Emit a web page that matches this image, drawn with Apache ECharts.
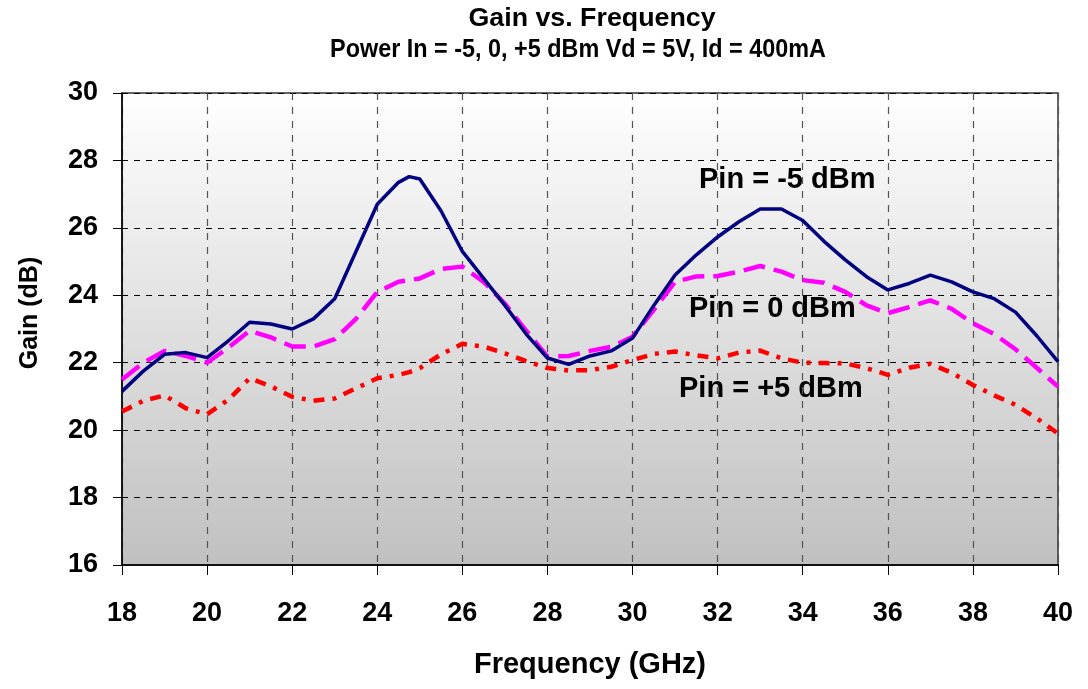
<!DOCTYPE html>
<html>
<head>
<meta charset="utf-8">
<script src="https://cdn.jsdelivr.net/npm/echarts@6/dist/echarts.min.js"></script>
<style>html,body{margin:0;padding:0;background:#fff}#c{width:1088px;height:689px}</style>
</head>
<body>
<div id="c"></div>
<script>
const freq = [18,18.5,19,19.5,20,20.5,21,21.5,22,22.5,23,23.5,24,24.5,24.75,25,25.5,26,26.5,27,27.5,28,28.5,29,29.5,30,30.5,31,31.5,32,32.5,33,33.5,34,34.5,35,35.5,36,36.5,37,37.5,38,38.5,39,39.5,40];
const gainM5 = [21.15,21.75,22.25,22.3,22.15,22.65,23.2,23.15,23.0,23.3,23.9,25.3,26.7,27.35,27.52,27.45,26.5,25.3,24.5,23.7,22.85,22.14,21.95,22.2,22.35,22.73,23.7,24.6,25.2,25.73,26.18,26.56,26.56,26.22,25.6,25.05,24.55,24.16,24.35,24.6,24.4,24.1,23.9,23.5,22.8,22.03];
const gain0 = [21.5,22.0,22.35,22.2,22.0,22.45,22.95,22.75,22.48,22.48,22.7,23.3,24.1,24.4,24.45,24.5,24.78,24.85,24.4,23.75,22.95,22.18,22.2,22.35,22.47,22.77,23.57,24.4,24.56,24.57,24.7,24.87,24.7,24.45,24.37,24.1,23.7,23.47,23.65,23.85,23.6,23.17,22.85,22.4,21.85,21.29];
const gainP5 = [20.55,20.87,21.03,20.65,20.47,20.9,21.54,21.3,20.99,20.87,20.94,21.24,21.54,21.64,21.72,21.84,22.25,22.56,22.48,22.28,22.05,21.84,21.77,21.78,21.88,22.08,22.26,22.33,22.22,22.13,22.3,22.36,22.13,22.0,21.99,21.98,21.84,21.64,21.85,21.97,21.7,21.34,21.03,20.75,20.35,19.9];
const titleText = 'Gain vs. Frequency';
const subtitleText = 'Power In = -5, 0, +5 dBm Vd = 5V, Id = 400mA';
const xName = 'Frequency (GHz)';
const yName = 'Gain (dB)';
const labels = ['Pin = -5 dBm','Pin = 0 dBm','Pin = +5 dBm'];

const pair = (ys) => freq.map((f,i)=>[f, ys[i]]);
const chart = echarts.init(document.getElementById('c'));
const F = '"Liberation Sans", Arial, sans-serif';
chart.setOption({
  animation:false,
  backgroundColor:'#ffffff',
  grid:{
    left:122, right:30, top:93, bottom:124, show:true,
    backgroundColor:new echarts.graphic.LinearGradient(0,0,0,1,[{offset:0,color:'#ffffff'},{offset:1,color:'#c0c0c0'}]),
    borderColor:'#333', borderWidth:1.5
  },
  xAxis:{
    type:'value', min:18, max:40, interval:2,
    name:xName, nameLocation:'middle', nameGap:85,
    nameTextStyle:{fontFamily:F, fontWeight:'bold', fontSize:29, color:'#000'},
    axisLine:{show:true, onZero:false, lineStyle:{color:'#111', width:2}},
    axisTick:{show:true, inside:false, length:10, lineStyle:{color:'#000'}},
    axisLabel:{fontFamily:F, fontWeight:'bold', fontSize:27, color:'#000', margin:35},
    splitLine:{show:true, lineStyle:{color:'#555', type:[7,7], width:1.2}}
  },
  yAxis:{
    type:'value', min:16, max:30, interval:2,
    axisLine:{show:true, onZero:false, lineStyle:{color:'#000', width:1.5}},
    axisTick:{show:true, inside:false, length:9, lineStyle:{color:'#000'}},
    axisLabel:{fontFamily:F, fontWeight:'bold', fontSize:27, color:'#000', margin:24},
    splitLine:{show:true, lineStyle:{color:'#000', type:[6,6], width:1}}
  },
  series:[
    {name:labels[0], type:'line', data:pair(gainM5), showSymbol:false, lineStyle:{color:'#000080', width:3.5}, z:5},
    {name:labels[1], type:'line', data:pair(gain0), showSymbol:false, lineStyle:{color:'#ff00ff', width:4.5, type:[22,9]}, z:4},
    {name:labels[2], type:'line', data:pair(gainP5), showSymbol:false, lineStyle:{color:'#ff0000', width:4.5, type:[11,8,4,8]}, z:3}
  ],
  graphic:[
    {type:'text', x:592, y:19, scaleX:1.03, style:{text:titleText, font:'bold 26px '+F, fill:'#000', textAlign:'center', textVerticalAlign:'middle'}},
    {type:'text', x:578, y:50, scaleX:0.9, style:{text:subtitleText, font:'bold 26px '+F, fill:'#000', textAlign:'center', textVerticalAlign:'middle'}},
    {type:'text', x:30, y:313, rotation:Math.PI/2, style:{text:yName, font:'bold 25px '+F, fill:'#000', textAlign:'center', textVerticalAlign:'middle'}},
    {type:'text', x:699, y:180, style:{text:labels[0], font:'bold 29px '+F, fill:'#000', textVerticalAlign:'middle'}},
    {type:'text', x:689, y:309, style:{text:labels[1], font:'bold 29px '+F, fill:'#000', textVerticalAlign:'middle'}},
    {type:'text', x:679, y:389, style:{text:labels[2], font:'bold 29px '+F, fill:'#000', textVerticalAlign:'middle'}}
  ]
});
</script>
</body>
</html>
